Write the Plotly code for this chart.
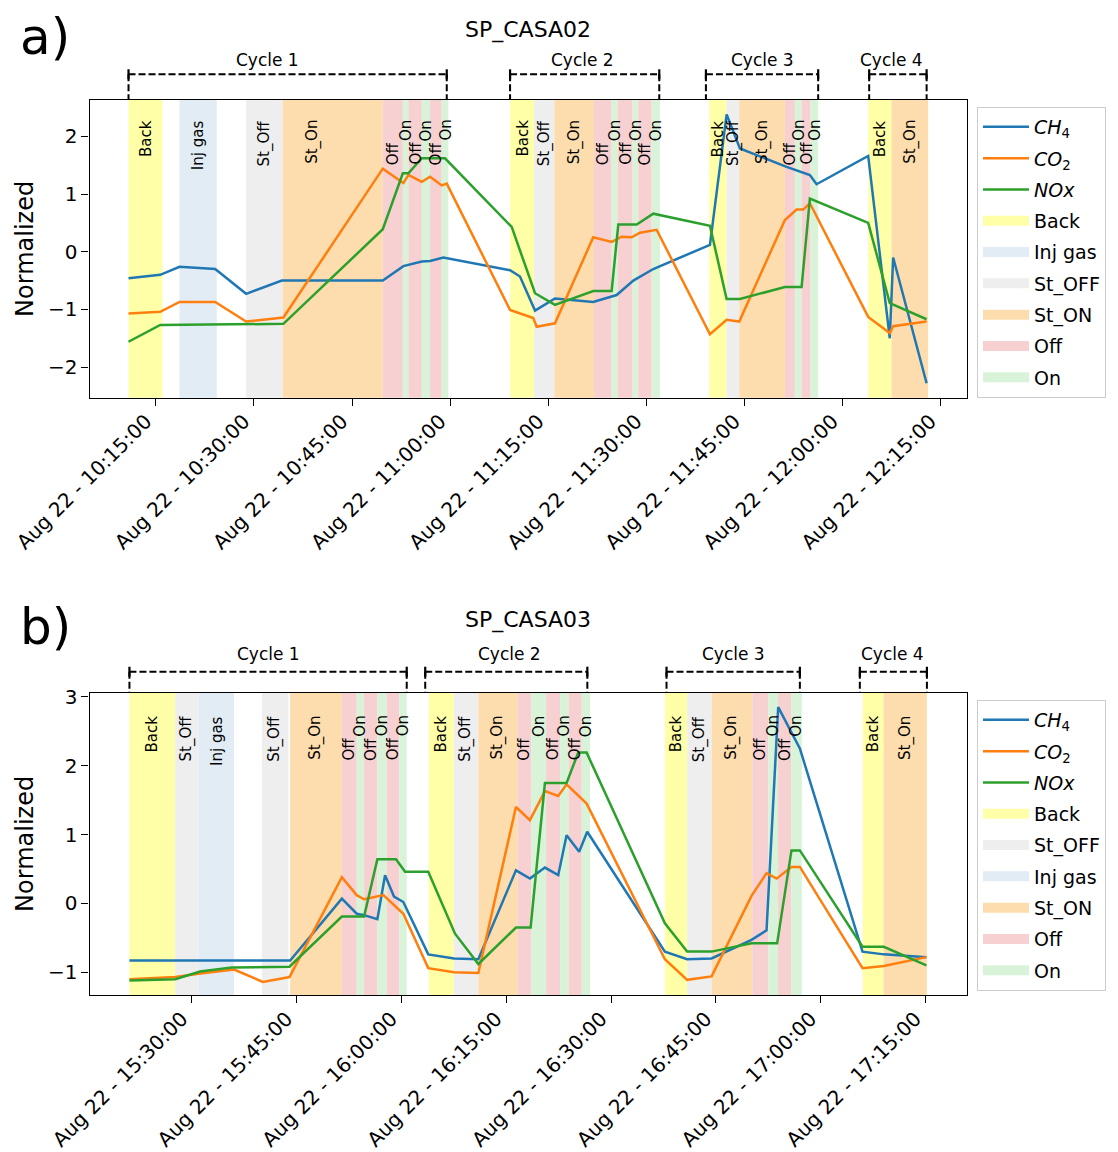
from datetime import datetime
import plotly.graph_objects as go

DAY = "2022-08-22"

# ---------------- panel a) SP_CASA02 ----------------
A_TITLE = "SP_CASA02"
A_XRANGE = ["10:04:51", "12:18:58"]
A_YRANGE = [-2.53, 2.63]
A_YTICKS = [-2, -1, 0, 1, 2]
A_XTICKS = ["10:15:00", "10:30:00", "10:45:00", "11:00:00", "11:15:00",
            "11:30:00", "11:45:00", "12:00:00", "12:15:00"]

A_CH4_T = ["10:10:49", "10:15:40", "10:18:37", "10:24:04", "10:28:48", "10:34:16",
           "10:49:42", "10:52:51", "10:55:40", "10:56:56", "10:58:58", "11:09:10",
           "11:10:41", "11:12:59", "11:16:02", "11:21:53", "11:25:28", "11:28:01",
           "11:31:04", "11:39:44", "11:42:17", "11:44:19", "11:51:27", "11:52:59",
           "11:55:01", "11:56:02", "12:03:56", "12:07:14", "12:07:45", "12:12:52"]
A_CH4 = [-0.46, -0.40, -0.26, -0.30, -0.73, -0.50, -0.50, -0.25, -0.17, -0.16,
         -0.10, -0.32, -0.43, -1.02, -0.81, -0.87, -0.75, -0.50, -0.30, 0.12,
         2.38, 1.79, 1.47, 1.41, 1.33, 1.17, 1.66, -1.50, -0.10, -2.28]

A_CO2_T = ["10:10:49", "10:15:40", "10:18:37", "10:24:04", "10:28:48", "10:34:30",
           "10:49:42", "10:52:51", "10:53:37", "10:55:40", "10:56:56", "10:58:43",
           "10:59:29", "11:09:10", "11:12:43", "11:13:14", "11:16:02", "11:21:53",
           "11:24:42", "11:26:14", "11:27:46", "11:29:02", "11:31:35", "11:39:44",
           "11:42:17", "11:44:13", "11:51:12", "11:52:59", "11:53:59", "11:55:01",
           "12:03:56", "12:07:14", "12:07:45", "12:12:52"]
A_CO2 = [-1.07, -1.04, -0.87, -0.87, -1.21, -1.14, 1.44, 1.19, 1.33, 1.21,
         1.30, 1.15, 1.18, -1.01, -1.15, -1.30, -1.24, 0.25, 0.17, 0.26,
         0.25, 0.33, 0.38, -1.43, -1.18, -1.21, 0.55, 0.73, 0.73, 0.84,
         -1.13, -1.41, -1.29, -1.21]

A_NOX_T = ["10:10:49", "10:15:40", "10:34:30", "10:49:42", "10:52:46", "10:53:37",
           "10:55:40", "10:59:13", "11:09:25", "11:12:59", "11:16:02", "11:21:53",
           "11:24:42", "11:25:43", "11:28:32", "11:31:04", "11:39:44", "11:42:17",
           "11:44:19", "11:51:12", "11:53:45", "11:55:01", "12:03:56", "12:07:14",
           "12:12:52"]
A_NOX = [-1.56, -1.27, -1.25, 0.39, 1.36, 1.36, 1.62, 1.62, 0.43, -0.72,
         -0.92, -0.68, -0.68, 0.47, 0.47, 0.66, 0.45, -0.82, -0.82, -0.61,
         -0.61, 0.92, 0.50, -0.89, -1.17]

A_PHASE = ["Back", "Inj gas", "St_Off", "St_On", "Off", "On", "Off", "On", "Off", "On",
           "Back", "St_Off", "St_On", "Off", "On", "Off", "On", "Off", "On",
           "Back", "St_Off", "St_On", "Off", "On", "Off", "On",
           "Back", "St_On"]
A_PHASE_START = ["10:10:49", "10:18:37", "10:28:48", "10:34:25", "10:49:42", "10:52:46",
                 "10:53:37", "10:55:40", "10:56:56", "10:58:43",
                 "11:09:10", "11:12:50", "11:15:56", "11:22:00", "11:24:42", "11:25:37",
                 "11:27:55", "11:28:46", "11:30:49",
                 "11:39:37", "11:42:17", "11:44:13", "11:51:12", "11:52:43", "11:53:45",
                 "11:55:07",
                 "12:03:56", "12:07:30"]
A_PHASE_END = ["10:16:01", "10:24:19", "10:34:25", "10:49:42", "10:52:46", "10:53:37",
               "10:55:40", "10:56:56", "10:58:43", "10:59:44",
               "11:12:50", "11:15:56", "11:22:00", "11:24:42", "11:25:37", "11:27:55",
               "11:28:46", "11:30:49", "11:32:05",
               "11:42:17", "11:44:13", "11:51:12", "11:52:43", "11:53:45", "11:55:07",
               "11:56:17",
               "12:07:30", "12:13:06"]

A_CYCLE = ["Cycle 1", "Cycle 2", "Cycle 3", "Cycle 4"]
A_CYCLE_START = ["10:10:49", "11:09:10", "11:39:07", "12:04:05"]
A_CYCLE_END = ["10:59:29", "11:31:59", "11:56:17", "12:12:52"]
A_LEGEND_PHASES = ["Back", "Inj gas", "St_Off", "St_On", "Off", "On"]

# ---------------- panel b) SP_CASA03 ----------------
B_TITLE = "SP_CASA03"
B_XRANGE = ["15:15:21", "17:20:52"]
B_YRANGE = [-1.33, 3.06]
B_YTICKS = [-1, 0, 1, 2, 3]
B_XTICKS = ["15:30:00", "15:45:00", "16:00:00", "16:15:00", "16:30:00",
            "16:45:00", "17:00:00", "17:15:00"]

B_CH4_T = ["15:21:04", "15:44:04", "15:51:28", "15:53:36", "15:54:39", "15:56:33",
           "15:57:39", "15:58:56", "16:00:16", "16:03:50", "16:07:32", "16:11:00",
           "16:16:23", "16:18:23", "16:20:32", "16:22:26", "16:23:38", "16:25:26",
           "16:26:35", "16:37:42", "16:40:53", "16:44:23", "16:50:06", "16:52:15",
           "16:53:55", "16:57:01", "17:05:59", "17:09:02", "17:15:08"]
B_CH4 = [-0.83, -0.83, 0.07, -0.15, -0.17, -0.23, 0.41, 0.10, 0.02, -0.74,
         -0.80, -0.81, 0.48, 0.36, 0.52, 0.41, 0.99, 0.75, 1.04, -0.70,
         -0.81, -0.80, -0.53, -0.39, 2.85, 2.25, -0.70, -0.74, -0.78]

B_CO2_T = ["15:21:04", "15:27:37", "15:30:56", "15:36:03", "15:40:10", "15:43:58",
           "15:51:28", "15:53:36", "15:54:39", "15:57:25", "16:00:16", "16:03:50",
           "16:07:31", "16:11:00", "16:16:23", "16:18:23", "16:20:32", "16:22:26",
           "16:23:38", "16:26:30", "16:37:42", "16:40:53", "16:44:23", "16:50:06",
           "16:52:15", "16:53:41", "16:55:49", "16:57:01", "17:05:59", "17:09:02",
           "17:15:08"]
B_CO2 = [-1.10, -1.07, -1.02, -0.96, -1.14, -1.07, 0.38, 0.12, 0.06, 0.12,
         -0.15, -0.94, -1.00, -1.01, 1.40, 1.21, 1.63, 1.56, 1.73, 1.45,
         -0.81, -1.11, -1.06, 0.11, 0.44, 0.36, 0.53, 0.53, -0.94, -0.91,
         -0.78]

B_NOX_T = ["15:21:04", "15:27:37", "15:31:11", "15:35:43", "15:43:58", "15:51:28",
           "15:54:39", "15:56:33", "15:59:13", "16:00:31", "16:03:50", "16:07:40",
           "16:11:00", "16:16:23", "16:18:29", "16:20:32", "16:23:38", "16:25:18",
           "16:26:30", "16:37:42", "16:40:53", "16:44:23", "16:50:06", "16:53:46",
           "16:55:49", "16:57:01", "17:05:59", "17:09:02", "17:15:08"]
B_NOX = [-1.12, -1.10, -0.99, -0.93, -0.92, -0.19, -0.19, 0.64, 0.64, 0.46,
         0.46, -0.44, -0.88, -0.35, -0.35, 1.75, 1.75, 2.19, 2.19, -0.29,
         -0.70, -0.70, -0.58, -0.58, 0.77, 0.77, -0.63, -0.63, -0.90]

B_PHASE = ["Back", "St_Off", "Inj gas", "St_Off", "St_On", "Off", "On", "Off", "On", "Off", "On",
           "Back", "St_Off", "St_On", "Off", "On", "Off", "On", "Off", "On",
           "Back", "St_Off", "St_On", "Off", "On", "Off", "On",
           "Back", "St_On"]
B_PHASE_START = ["15:21:04", "15:27:37", "15:30:56", "15:40:01", "15:44:04", "15:51:28",
                 "15:53:36", "15:54:39", "15:56:33", "15:57:53", "15:59:42",
                 "16:03:54", "16:07:30", "16:11:00", "16:16:36", "16:18:36", "16:20:42",
                 "16:22:42", "16:23:54", "16:25:48",
                 "16:37:42", "16:40:54", "16:44:24", "16:50:12", "16:52:30", "16:53:54",
                 "16:55:48",
                 "17:06:00", "17:09:00"]
B_PHASE_END = ["15:27:37", "15:30:56", "15:36:03", "15:43:49", "15:51:28", "15:53:36",
               "15:54:39", "15:56:33", "15:57:53", "15:59:42", "16:00:45",
               "16:07:30", "16:11:00", "16:16:36", "16:18:36", "16:20:42", "16:22:42",
               "16:23:54", "16:25:48", "16:27:00",
               "16:40:54", "16:44:24", "16:50:12", "16:52:30", "16:53:54", "16:55:48",
               "16:57:18",
               "17:09:00", "17:15:12"]

B_CYCLE = ["Cycle 1", "Cycle 2", "Cycle 3", "Cycle 4"]
B_CYCLE_START = ["15:21:04", "16:03:24", "16:37:56", "17:05:36"]
B_CYCLE_END = ["16:00:45", "16:26:36", "16:57:01", "17:15:12"]
B_LEGEND_PHASES = ["Back", "St_Off", "Inj gas", "St_On", "Off", "On"]

# ---------------- styles ----------------
FONT = "DejaVu Sans"
W, H = 1118, 1152
LINE_COLORS = {"CH4": "#1f77b4", "CO2": "#ff7f0e", "NOx": "#2ca02c"}
GAS_NAMES = {"CH4": "<i>CH</i><sub>4</sub>", "CO2": "<i>CO</i><sub>2</sub>", "NOx": "<i>NOx</i>"}
PHASE_COLORS = {"Back": "#FFFFA8", "Inj gas": "#E2ECF5", "St_Off": "#EEEEEE",
                "St_On": "#FDDDAD", "Off": "#F7D1D1", "On": "#D8F3D8"}
PHASE_LEGEND = {"Back": "Back", "Inj gas": "Inj gas", "St_Off": "St_OFF",
                "St_On": "St_ON", "Off": "Off", "On": "On"}

X_DOMAIN = [89.5 / W, 966.5 / W]
PANELS = [
    dict(key="a", title=A_TITLE, xr=A_XRANGE, yr=A_YRANGE, yt=A_YTICKS, xt=A_XTICKS,
         series=[("CH4", A_CH4_T, A_CH4), ("CO2", A_CO2_T, A_CO2), ("NOx", A_NOX_T, A_NOX)],
         phase=A_PHASE, ps=A_PHASE_START, pe=A_PHASE_END,
         cyc=A_CYCLE, cs=A_CYCLE_START, ce=A_CYCLE_END, leg=A_LEGEND_PHASES,
         top=100.0, bottom=397.7, bracket=25.7, cyc_lab=40.0, title_off=70.0,
         lab_top=18.0, off_bot=67.0, letter="a)", letter_y=37.0, legend_top=107.0,
         cyc_dx=[-20, -2, 0, -6], lab_dx={3: -21}),
    dict(key="b", title=B_TITLE, xr=B_XRANGE, yr=B_YRANGE, yt=B_YTICKS, xt=B_XTICKS,
         series=[("CH4", B_CH4_T, B_CH4), ("CO2", B_CO2_T, B_CO2), ("NOx", B_NOX_T, B_NOX)],
         phase=B_PHASE, ps=B_PHASE_START, pe=B_PHASE_END,
         cyc=B_CYCLE, cs=B_CYCLE_START, ce=B_CYCLE_END, leg=B_LEGEND_PHASES,
         top=692.7, bottom=995.0, bracket=21.0, cyc_lab=38.7, title_off=72.7,
         lab_top=21.0, off_bot=70.0, letter="b)", letter_y=627.0, legend_top=700.0,
         cyc_dx=[0, 3, 0, -1], lab_dx={}),
]


def ts(hms):
    return f"{DAY} {hms}"


def mid(a, b):
    fa = datetime.fromisoformat(ts(a))
    fb = datetime.fromisoformat(ts(b))
    return (fa + (fb - fa) / 2).strftime("%Y-%m-%d %H:%M:%S.%f")


fig = go.Figure()
shapes, annotations = [], []
layout = {}

for i, p in enumerate(PANELS):
    n = "" if i == 0 else str(i + 1)
    xa, ya = "x" + n, "y" + n
    legname = "legend" + n
    hpx = p["bottom"] - p["top"]

    def dom(px_above):
        return 1 + px_above / hpx

    layout["xaxis" + n] = dict(
        domain=X_DOMAIN, anchor=ya, type="date", automargin=False,
        range=[ts(p["xr"][0]), ts(p["xr"][1])],
        tickvals=[ts(t) for t in p["xt"]], tickformat="%b %d - %H:%M:%S",
        tickangle=-45, ticks="outside", ticklen=7, tickwidth=1.2, tickcolor="black",
        ticklabelshift=-10, ticklabelstandoff=-4,
        showline=True, mirror=True, linecolor="black", linewidth=1.2,
        showgrid=False, zeroline=False, tickfont=dict(size=20, color="black"))
    layout["yaxis" + n] = dict(
        domain=[1 - p["bottom"] / H, 1 - p["top"] / H], anchor=xa, automargin=False,
        range=p["yr"], tickvals=p["yt"], ticks="outside", ticklen=7, tickwidth=1.2,
        tickcolor="black", showline=True, mirror=True, linecolor="black", linewidth=1.2,
        showgrid=False, zeroline=False, tickfont=dict(size=20, color="black"),
        title=dict(text="Normalized", font=dict(size=24, color="black"), standoff=7))

    # data lines
    for gas, tt, vv in p["series"]:
        fig.add_trace(go.Scatter(
            x=[ts(t) for t in tt], y=vv, mode="lines", name=GAS_NAMES[gas],
            line=dict(color=LINE_COLORS[gas], width=2.5), xaxis=xa, yaxis=ya,
            legend=legname, legendgroup=p["key"] + gas))
    # legend patches for the phases
    for ph in p["leg"]:
        fig.add_trace(go.Scatter(
            x=[None], y=[None], mode="lines", name=PHASE_LEGEND[ph],
            line=dict(color=PHASE_COLORS[ph], width=10), xaxis=xa, yaxis=ya,
            legend=legname, legendgroup=p["key"] + ph, hoverinfo="skip"))

    # phase spans and their labels
    for k, (ph, s, e) in enumerate(zip(p["phase"], p["ps"], p["pe"])):
        shapes.append(dict(type="rect", xref=xa, yref=ya + " domain",
                           x0=ts(s), x1=ts(e), y0=0, y1=1, fillcolor=PHASE_COLORS[ph],
                           line=dict(width=0), layer="below"))
        if ph == "Off":
            ypos, yanc = 1 - p["off_bot"] / hpx, "bottom"
        else:
            ypos, yanc = 1 - p["lab_top"] / hpx, "top"
        annotations.append(dict(xref=xa, yref=ya + " domain", x=mid(s, e), y=ypos,
                                text=ph, textangle=-90, showarrow=False,
                                xanchor="center", yanchor=yanc,
                                xshift=p["lab_dx"].get(k, 0),
                                font=dict(size=15, color="black")))

    # cycle brackets
    yb = dom(p["bracket"])
    for c, s, e, dx in zip(p["cyc"], p["cs"], p["ce"], p["cyc_dx"]):
        dash = dict(color="black", width=2, dash="7px,3px")
        shapes.append(dict(type="line", xref=xa, yref=ya + " domain",
                           x0=ts(s), x1=ts(e), y0=yb, y1=yb, line=dash))
        for t in (s, e):
            shapes.append(dict(type="line", xref=xa, yref=ya + " domain",
                               x0=ts(t), x1=ts(t), y0=yb, y1=1, line=dash))
            shapes.append(dict(type="line", xref=xa, yref=ya + " domain",
                               x0=ts(t), x1=ts(t), y0=dom(p["bracket"] + 5),
                               y1=dom(p["bracket"] - 5),
                               line=dict(color="black", width=2.2)))
        annotations.append(dict(xref=xa, yref=ya + " domain", x=mid(s, e),
                                y=dom(p["cyc_lab"]), text=c, showarrow=False,
                                xanchor="center", yanchor="middle", xshift=dx,
                                font=dict(size=17, color="black")))

    annotations.append(dict(xref=xa + " domain", yref=ya + " domain", x=0.5,
                            y=dom(p["title_off"]), text=p["title"], showarrow=False,
                            xanchor="center", yanchor="middle",
                            font=dict(size=22, color="black")))
    annotations.append(dict(xref="paper", yref="paper", x=18 / W, y=1 - p["letter_y"] / H,
                            text=p["letter"], showarrow=False, xanchor="left",
                            yanchor="middle", font=dict(size=50, color="black")))

    layout[legname] = dict(x=977 / W, y=1 - p["legend_top"] / H, xanchor="left",
                           yanchor="top", bordercolor="#CCCCCC", borderwidth=1,
                           bgcolor="white", font=dict(size=19, color="black"),
                           itemwidth=46, tracegroupgap=3.6)

fig.update_layout(
    width=W, height=H, margin=dict(l=0, r=0, t=0, b=0, autoexpand=False),
    paper_bgcolor="white", plot_bgcolor="white",
    font=dict(family=FONT, color="black"),
    shapes=shapes, annotations=annotations, showlegend=True, **layout)

fig.write_html("out.html", config={"displayModeBar": False},
               post_script="document.body.style.margin='0';")
